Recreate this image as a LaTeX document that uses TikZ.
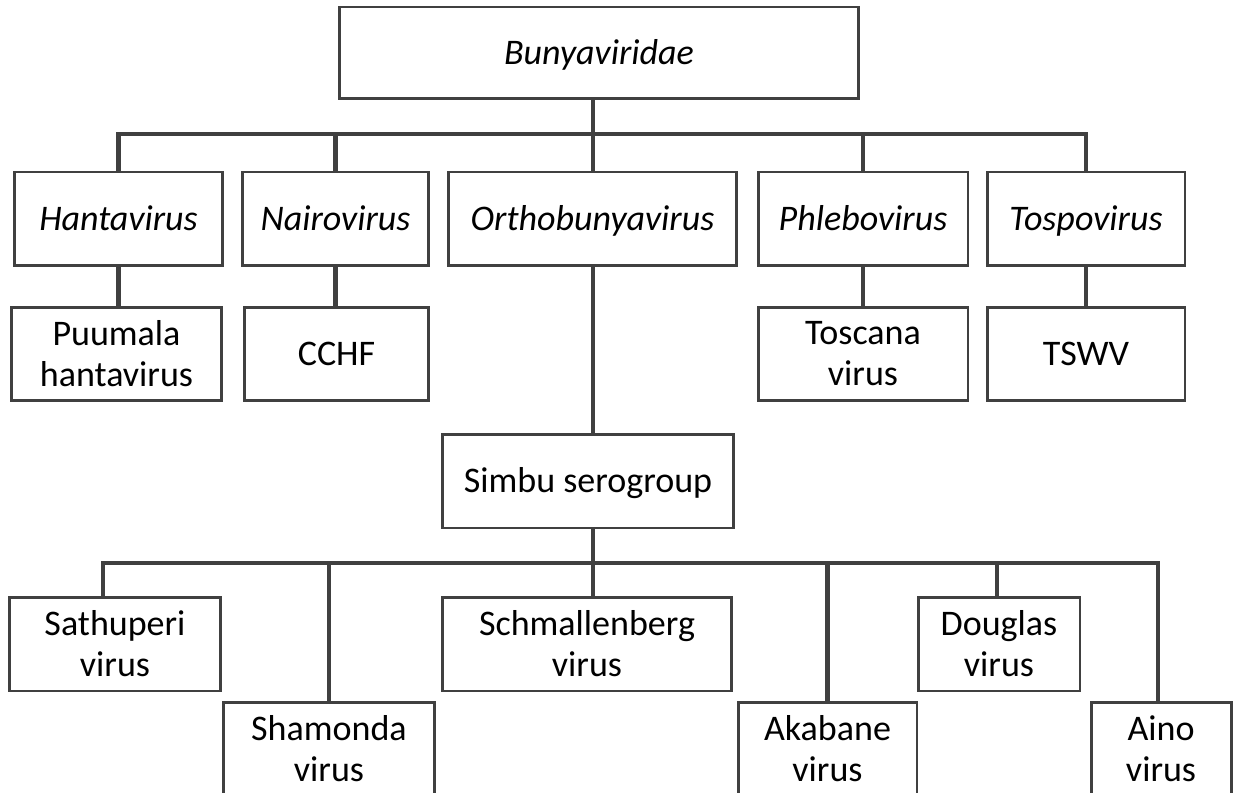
\documentclass[tikz,border=0pt]{standalone}
\usepackage{fontspec}
\setmainfont{Carlito}
\definecolor{boxgray}{HTML}{404040}
\begin{document}
\begin{tikzpicture}[x=0.02cm, y=-0.02cm, line join=miter,
	box/.style={draw=boxgray, line width=1.7pt, minimum height=1.88cm, inner sep=2pt, align=center, font=\fontsize{20.5}{23.3}\selectfont},
	oneline/.style={text height=13.2pt, text depth=0pt},
	genus/.style={box, oneline, font=\fontsize{20.5}{23.3}\selectfont\itshape},
	link/.style={draw=boxgray, line width=2.7pt}]
	\useasboundingbox (0,0) rectangle (1239,793);
	\path
	(599,53) node[genus, minimum width=10.4cm, minimum height=1.84cm] (fam) {Bunyaviridae}
	(118.5,219) node[genus, minimum width=4.18cm] (hanta) {Hantavirus}
	(335.5,219) node[genus, minimum width=3.74cm] (nairo) {Nairovirus}
	(592.5,219) node[genus, minimum width=5.78cm] (ortho) {Orthobunyavirus}
	(863,219) node[genus, minimum width=4.2cm] (phlebo) {Phlebovirus}
	(1086,219) node[genus, minimum width=3.96cm] (tospo) {Tospovirus}
	(116.5,354) node[box, minimum width=4.22cm] (puumala) {Puumala\\hantavirus}
	(336.5,354) node[box, oneline, minimum width=3.7cm] (cchf) {CCHF}
	(863,354) node[box, minimum width=4.2cm] (toscana) {Toscana\\virus}
	(1086,354) node[box, oneline, minimum width=3.96cm] (tswv) {TSWV}
	(588,481) node[box, oneline, minimum width=5.84cm] (simbu) {Simbu serogroup}
	(115,644) node[box, minimum width=4.24cm] (sathuperi) {Sathuperi\\virus}
	(587,644) node[box, minimum width=5.8cm] (schmallenberg) {Schmallenberg\\virus}
	(999,644) node[box, minimum width=3.24cm] (douglas) {Douglas\\virus}
	(329,749) node[box, minimum width=4.24cm] (shamonda) {Shamonda\\virus}
	(827.5,749) node[box, minimum width=3.58cm] (akabane) {Akabane\\virus}
	(1161,749) node[box, minimum width=2.8cm] (aino) {Aino\\virus}
	;
	% genus level
	\coordinate (famjoin) at (593,134);
	\draw[link] (fam.south -| famjoin) -- (ortho.north -| famjoin);
	\draw[link] (famjoin) -| (hanta.north);
	\draw[link] (famjoin) -| (nairo.north);
	\draw[link] (famjoin) -| (phlebo.north);
	\draw[link] (famjoin) -| (tospo.north);
	\draw[link] (hanta.south) -- (hanta.south |- puumala.north);
	\draw[link] (nairo.south) -- (nairo.south |- cchf.north);
	\draw[link] (phlebo.south) -- (phlebo.south |- toscana.north);
	\draw[link] (tospo.south) -- (tospo.south |- tswv.north);
	\draw[link] (ortho.south -| famjoin) -- (simbu.north -| famjoin);
	% serogroup level
	\coordinate (simbujoin) at (593,563);
	\draw[link] (simbu.south -| simbujoin) -- (schmallenberg.north -| simbujoin);
	\draw[link] (simbujoin) -| ([xshift=-0.24cm]sathuperi.north);
	\draw[link] (simbujoin) -| (shamonda.north);
	\draw[link] (simbujoin) -| (akabane.north);
	\draw[link] (simbujoin) -| ([xshift=-0.04cm]douglas.north);
	\draw[link] (simbujoin) -| ([xshift=-0.06cm]aino.north);
\end{tikzpicture}
\end{document}
